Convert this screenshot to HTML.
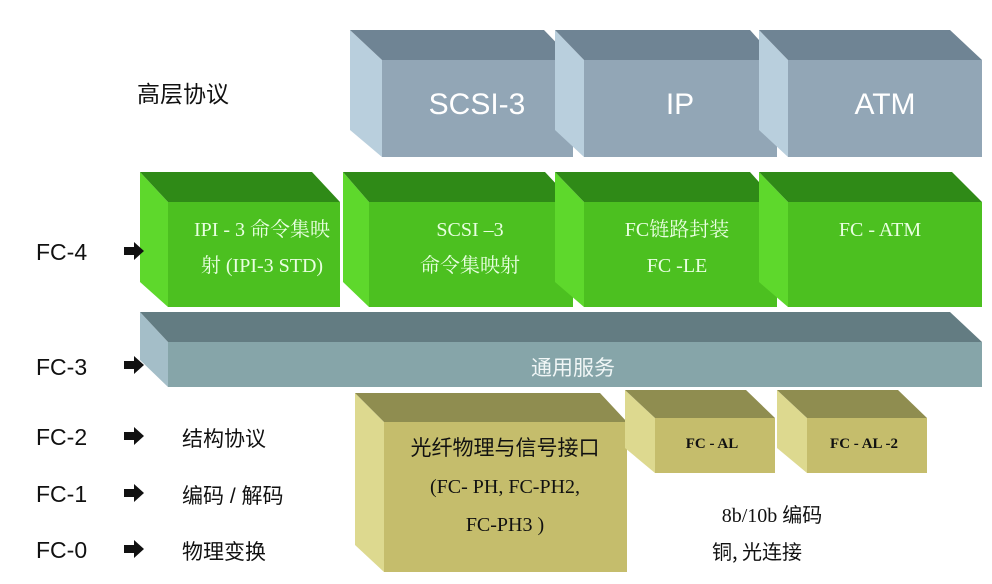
<!DOCTYPE html>
<html><head><meta charset="utf-8"><style>
html,body{margin:0;padding:0;background:#fff;}
svg{display:block;}
.l{font-family:"Liberation Sans","Noto Sans CJK SC",sans-serif;font-size:23px;fill:#111;}
.c{font-family:"Liberation Sans","Noto Sans CJK SC",sans-serif;font-size:21px;fill:#111;}
.w{font-family:"Liberation Sans",sans-serif;font-size:30px;fill:#fff;text-anchor:middle;}
.g{font-family:"Liberation Serif","Noto Serif CJK SC",serif;font-size:20px;fill:#e8ffe0;text-anchor:middle;}
.o{font-family:"Liberation Serif","Noto Serif CJK SC",serif;font-size:20px;fill:#111;text-anchor:middle;}
</style></head><body>
<svg width="992" height="584" viewBox="0 0 992 584" xmlns="http://www.w3.org/2000/svg">
<polygon points="350,30 382,60 382,157 350,130" fill="#b9cfdd"/>
<polygon points="350,30 544,30 573,60 382,60" fill="#6f8494"/>
<rect x="382" y="60" width="191" height="97" fill="#92a6b6"/>
<polygon points="555,30 584,60 584,157 555,130" fill="#b9cfdd"/>
<polygon points="555,30 750,30 777,60 584,60" fill="#6f8494"/>
<rect x="584" y="60" width="193" height="97" fill="#92a6b6"/>
<polygon points="759,30 788,60 788,157 759,130" fill="#b9cfdd"/>
<polygon points="759,30 950,30 982,60 788,60" fill="#6f8494"/>
<rect x="788" y="60" width="194" height="97" fill="#92a6b6"/>
<text class="w" x="477" y="114">SCSI-3</text>
<text class="w" x="680" y="114">IP</text>
<text class="w" x="885" y="114">ATM</text>
<text class="l" x="137" y="102">高层协议</text>
<polygon points="140,172 168,202 168,307 140,282" fill="#5ed82c"/>
<polygon points="140,172 312,172 340,202 168,202" fill="#2f8a17"/>
<rect x="168" y="202" width="172" height="105" fill="#4cc020"/>
<polygon points="343,172 369,202 369,307 343,282" fill="#5ed82c"/>
<polygon points="343,172 545,172 573,202 369,202" fill="#2f8a17"/>
<rect x="369" y="202" width="204" height="105" fill="#4cc020"/>
<polygon points="555,172 584,202 584,307 555,282" fill="#5ed82c"/>
<polygon points="555,172 750,172 777,202 584,202" fill="#2f8a17"/>
<rect x="584" y="202" width="193" height="105" fill="#4cc020"/>
<polygon points="759,172 788,202 788,307 759,282" fill="#5ed82c"/>
<polygon points="759,172 952,172 982,202 788,202" fill="#2f8a17"/>
<rect x="788" y="202" width="194" height="105" fill="#4cc020"/>
<text class="g" x="262" y="236">IPI - 3  命令集映</text>
<text class="g" x="262" y="272">射 (IPI-3 STD)</text>
<text class="g" x="470" y="236">SCSI –3</text>
<text class="g" x="470" y="272">命令集映射</text>
<text class="g" x="677" y="236">FC链路封装</text>
<text class="g" x="677" y="272">FC -LE</text>
<text class="g" x="880" y="236">FC    - ATM</text>
<polygon points="140,312 168,342 168,387 140,360" fill="#a4bec8"/>
<polygon points="140,312 950,312 982,342 168,342" fill="#637c82"/>
<rect x="168" y="342" width="814" height="45" fill="#86a5a9"/>
<text x="573" y="375" style="font-family:'Noto Sans CJK SC',sans-serif;font-size:21px;fill:#f0f6f6;text-anchor:middle">通用服务</text>
<polygon points="355,393 384,422 384,572 355,545" fill="#ddd98f"/>
<polygon points="355,393 600,393 627,422 384,422" fill="#8f8d50"/>
<rect x="384" y="422" width="243" height="150" fill="#c5bd6c"/>
<polygon points="625,390 655,418 655,473 625,448" fill="#ddd98f"/>
<polygon points="625,390 746,390 775,418 655,418" fill="#8f8d50"/>
<rect x="655" y="418" width="120" height="55" fill="#c5bd6c"/>
<polygon points="777,390 807,418 807,473 777,448" fill="#ddd98f"/>
<polygon points="777,390 898,390 927,418 807,418" fill="#8f8d50"/>
<rect x="807" y="418" width="120" height="55" fill="#c5bd6c"/>
<text x="505" y="455" style="font-family:'Noto Sans CJK SC',sans-serif;font-size:21px;fill:#111;text-anchor:middle">光纤物理与信号接口</text>
<text class="o" x="505" y="493">(FC- PH,  FC-PH2,</text>
<text class="o" x="505" y="531">FC-PH3 )</text>
<text class="o" x="712" y="448" style="font-size:15px;font-weight:bold">FC - AL</text>
<text class="o" x="864" y="448" style="font-size:15px;font-weight:bold">FC - AL -2</text>
<text x="772" y="522" style="font-family:'Liberation Serif','Noto Sans CJK SC',serif;font-size:20px;fill:#111;text-anchor:middle">8b/10b 编码</text>
<text x="757" y="559" style="font-family:'Noto Sans CJK SC',sans-serif;font-size:20px;fill:#111;text-anchor:middle">铜, 光连接</text>
<text class="l" x="36" y="260">FC-4</text>
<text class="l" x="36" y="375">FC-3</text>
<text class="l" x="36" y="445">FC-2</text>
<text class="l" x="36" y="502">FC-1</text>
<text class="l" x="36" y="558">FC-0</text>
<g fill="#111">
<polygon points="124,247 134,247 134,242 144,251 134,260 134,255 124,255"/>
<polygon points="124,361 134,361 134,356 144,365 134,374 134,369 124,369"/>
<polygon points="124,432 134,432 134,427 144,436 134,445 134,440 124,440"/>
<polygon points="124,489 134,489 134,484 144,493 134,502 134,497 124,497"/>
<polygon points="124,545 134,545 134,540 144,549 134,558 134,553 124,553"/>
</g>
<text class="c" x="182" y="446">结构协议</text>
<text class="c" x="182" y="503">编码 / 解码</text>
<text class="c" x="182" y="559">物理变换</text>
</svg>
</body></html>
